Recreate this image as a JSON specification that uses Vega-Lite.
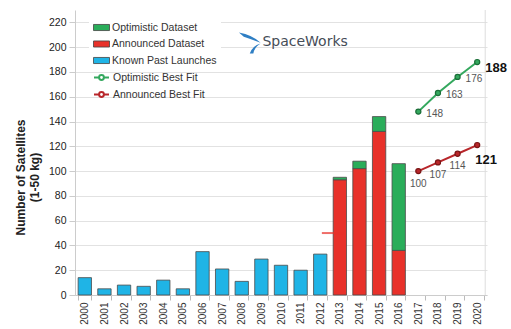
{
  "$schema": "https://vega.github.io/schema/vega-lite/v6.json",
  "width": 412,
  "height": 285,
  "autosize": {"type": "none"},
  "padding": {"left": 75, "top": 10, "right": 24, "bottom": 34},
  "background": "white",
  "config": {
    "view": {"stroke": null},
    "font": "Liberation Sans",
    "axisY": {"tickCount": 12, "grid": true, "gridColor": "#e2e2e2", "domainColor": "#ccc", "tickColor": "#ccc", "tickSize": 6, "labelFontSize": 10.5, "labelColor": "#222", "labelPadding": 3, "labelOverlap": false, "titleFontSize": 12, "titleFontWeight": "bold", "titleColor": "#222", "titleX": -48, "titleY": 167, "titleAngle": 270, "titleBaseline": "bottom", "titleAlign": "center", "titleLineHeight": 14},
    "axisX": {"labelAngle": 270, "labelFontSize": 10, "labelColor": "#333", "tickBand": "extent", "tickColor": "#bbb", "tickSize": 5, "domainColor": "#ccc", "labelPadding": 2, "grid": false}
  },
  "datasets": {
    "bars": [
      {"year": "2000", "series": "Known Past Launches", "value": 14},
      {"year": "2001", "series": "Known Past Launches", "value": 5},
      {"year": "2002", "series": "Known Past Launches", "value": 8},
      {"year": "2003", "series": "Known Past Launches", "value": 7},
      {"year": "2004", "series": "Known Past Launches", "value": 12},
      {"year": "2005", "series": "Known Past Launches", "value": 5},
      {"year": "2006", "series": "Known Past Launches", "value": 35},
      {"year": "2007", "series": "Known Past Launches", "value": 21},
      {"year": "2008", "series": "Known Past Launches", "value": 11},
      {"year": "2009", "series": "Known Past Launches", "value": 29},
      {"year": "2010", "series": "Known Past Launches", "value": 24},
      {"year": "2011", "series": "Known Past Launches", "value": 20},
      {"year": "2012", "series": "Known Past Launches", "value": 33},
      {"year": "2013", "series": "Announced Dataset", "value": 93},
      {"year": "2013", "series": "Optimistic Dataset", "value": 2},
      {"year": "2014", "series": "Announced Dataset", "value": 102},
      {"year": "2014", "series": "Optimistic Dataset", "value": 6},
      {"year": "2015", "series": "Announced Dataset", "value": 132},
      {"year": "2015", "series": "Optimistic Dataset", "value": 12},
      {"year": "2016", "series": "Announced Dataset", "value": 36},
      {"year": "2016", "series": "Optimistic Dataset", "value": 70}
    ],
    "fits": [
      {"year": "2017", "series": "Optimistic Best Fit", "value": 148},
      {"year": "2018", "series": "Optimistic Best Fit", "value": 163},
      {"year": "2019", "series": "Optimistic Best Fit", "value": 176},
      {"year": "2020", "series": "Optimistic Best Fit", "value": 188},
      {"year": "2017", "series": "Announced Best Fit", "value": 100},
      {"year": "2018", "series": "Announced Best Fit", "value": 107},
      {"year": "2019", "series": "Announced Best Fit", "value": 114},
      {"year": "2020", "series": "Announced Best Fit", "value": 121}
    ]
  },
  "layer": [
    {
      "data": {"name": "bars"},
      "mark": {"type": "bar", "stroke": "#4a4a4a", "strokeWidth": 0.8},
      "encoding": {
        "x": {
          "field": "year", "type": "nominal",
          "scale": {"domain": ["2000","2001","2002","2003","2004","2005","2006","2007","2008","2009","2010","2011","2012","2013","2014","2015","2016","2017","2018","2019","2020"], "paddingInner": 0.32, "paddingOuter": 0.16},
          "axis": {"title": null}
        },
        "y": {
          "field": "value", "type": "quantitative", "stack": "zero",
          "scale": {"domain": [0, 230], "nice": false},
          "axis": {"title": ["Number of Satellites", "(1-50 kg)"], "values": [0,20,40,60,80,100,120,140,160,180,200,220]}
        },
        "order": {"field": "series", "sort": "ascending"},
        "color": {
          "field": "series", "type": "nominal",
          "scale": {"domain": ["Optimistic Dataset", "Announced Dataset", "Known Past Launches"], "range": ["#2aad5a", "#e8312a", "#1fb4e6"]},
          "legend": {"title": null, "orient": "none", "legendX": 14, "legendY": 5, "symbolType": "M-1,-0.38H1V0.38H-1Z", "symbolSize": 256, "symbolStrokeColor": "#444", "symbolStrokeWidth": 0.8, "symbolOpacity": 1, "labelFontSize": 10.5, "labelColor": "#333", "labelFont": "Liberation Sans", "labelOffset": 2, "rowPadding": 2.5, "fillColor": "white", "padding": 4}
        }
      }
    },
    {
      "data": {"values": [{}]},
      "mark": {"type": "tick", "color": "#e8312a", "thickness": 2, "size": 22, "xOffset": -7},
      "encoding": {
        "x": {"datum": "2013", "type": "nominal"},
        "y": {"datum": 50, "type": "quantitative"}
      }
    },
    {
      "data": {"values": [{}]},
      "mark": {"type": "rule", "color": "#dddddd", "strokeWidth": 1},
      "encoding": {
        "x": {"datum": "2020", "type": "nominal", "bandPosition": 1.1}
      }
    },
    {
      "data": {"name": "fits"},
      "mark": {"type": "line", "strokeWidth": 2},
      "encoding": {
        "x": {"field": "year", "type": "nominal"},
        "y": {"field": "value", "type": "quantitative"},
        "color": {
          "field": "series", "type": "nominal",
          "scale": {"domain": ["Optimistic Best Fit", "Announced Best Fit"], "range": ["#34a85e", "#b8262a"]},
          "legend": {"title": null, "orient": "none", "legendX": 14, "legendY": 55, "symbolType": "M-1,0H-0.32M0.32,0H1M0.32,0A0.32,0.32,0,1,1,-0.32,0A0.32,0.32,0,1,1,0.32,0", "symbolSize": 225, "symbolStrokeWidth": 2, "labelFontSize": 10.5, "labelColor": "#333", "labelFont": "Liberation Sans", "labelOffset": 3, "rowPadding": 2, "padding": 4}
        }
      }
    },
    {
      "data": {"name": "fits"},
      "mark": {"type": "point", "filled": true, "size": 26, "strokeWidth": 1.2, "opacity": 1},
      "encoding": {
        "x": {"field": "year", "type": "nominal"},
        "y": {"field": "value", "type": "quantitative"},
        "fill": {"field": "series", "type": "nominal", "scale": {"domain": ["Optimistic Best Fit", "Announced Best Fit"], "range": ["#34a85e", "#b8262a"]}, "legend": null},
        "stroke": {"field": "series", "type": "nominal", "scale": {"domain": ["Optimistic Best Fit", "Announced Best Fit"], "range": ["#1b6e38", "#7a1515"]}, "legend": null}
      }
    },
    {
      "data": {"name": "fits"},
      "transform": [{"filter": "datum.series == 'Optimistic Best Fit' && datum.year != '2020'"}],
      "mark": {"type": "text", "align": "left", "baseline": "middle", "dx": 8, "dy": 2, "fontSize": 10, "color": "#555"},
      "encoding": {
        "x": {"field": "year", "type": "nominal"},
        "y": {"field": "value", "type": "quantitative"},
        "text": {"field": "value", "type": "quantitative"}
      }
    },
    {
      "data": {"name": "fits"},
      "transform": [{"filter": "datum.series == 'Announced Best Fit' && datum.year != '2020'"}],
      "mark": {"type": "text", "align": "center", "baseline": "middle", "dx": 0, "dy": 12.5, "fontSize": 10, "color": "#555"},
      "encoding": {
        "x": {"field": "year", "type": "nominal"},
        "y": {"field": "value", "type": "quantitative"},
        "text": {"field": "value", "type": "quantitative"}
      }
    },
    {
      "data": {"name": "fits"},
      "transform": [{"filter": "datum.series == 'Optimistic Best Fit' && datum.year == '2020'"}],
      "mark": {"type": "text", "align": "left", "baseline": "middle", "dx": 8, "dy": 6, "fontSize": 13, "fontWeight": "bold", "color": "#111"},
      "encoding": {
        "x": {"field": "year", "type": "nominal"},
        "y": {"field": "value", "type": "quantitative"},
        "text": {"field": "value", "type": "quantitative"}
      }
    },
    {
      "data": {"name": "fits"},
      "transform": [{"filter": "datum.series == 'Announced Best Fit' && datum.year == '2020'"}],
      "mark": {"type": "text", "align": "left", "baseline": "middle", "dx": -2, "dy": 14.5, "fontSize": 13, "fontWeight": "bold", "color": "#111"},
      "encoding": {
        "x": {"field": "year", "type": "nominal"},
        "y": {"field": "value", "type": "quantitative"},
        "text": {"field": "value", "type": "quantitative"}
      }
    },
    {
      "data": {"values": [{}]},
      "mark": {"type": "point", "filled": true, "size": 576, "strokeWidth": 0, "color": "#2f7fc4", "opacity": 1, "xOffset": 8, "shape": "M-0.9,-0.8Q0.2,-0.6,0.9,0.05Q0.1,-0.25,-0.5,-0.45ZM0.9,0.1Q0.2,0.3,0,0.95L0.3,0.95Q0.35,0.45,0.9,0.1Z"},
      "encoding": {
        "x": {"datum": "2008", "type": "nominal"},
        "y": {"datum": 204, "type": "quantitative"}
      }
    },
    {
      "data": {"values": [{}]},
      "mark": {"type": "text", "text": "SpaceWorks", "align": "left", "baseline": "middle", "dx": 1, "font": "DejaVu Sans", "fontSize": 14, "color": "#454d57"},
      "encoding": {
        "x": {"datum": "2009", "type": "nominal"},
        "y": {"datum": 204, "type": "quantitative"}
      }
    }
  ],
  "resolve": {"scale": {"color": "independent", "fill": "independent", "stroke": "independent"}}
}
